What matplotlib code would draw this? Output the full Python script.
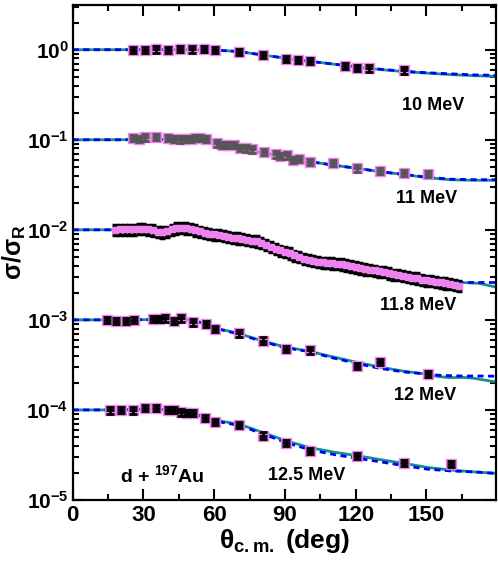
"""
    d + 197Au elastic scattering, ratio to Rutherford
"""

import numpy as np
import matplotlib.pyplot as plt

plt.rcParams['font.family'] = 'Liberation Sans'
plt.rcParams['font.weight'] = 'bold'
plt.rcParams['mathtext.fontset'] = 'custom'
plt.rcParams['mathtext.rm'] = 'Liberation Sans'
plt.rcParams['mathtext.bf'] = 'Liberation Sans:bold'
plt.rcParams['mathtext.it'] = 'Liberation Sans:italic'

# ---- data (ratio sigma/sigma_R, before the offset of each energy) ----
energies = ['10 MeV', '11 MeV', '11.8 MeV', '12 MeV', '12.5 MeV']
offsets = [1.0, 1e-1, 1e-2, 1e-3, 1e-4]

ang_10 = [25.5, 30.5, 35.5, 40.5, 45.5, 50.5, 55.5, 60.5, 70.5, 80.5,
          90.5, 95.5, 100.5, 115.5, 120.5, 125.5, 140.5]
val_10 = [1.0, 1.0, 1.01, 1.0, 1.02, 1.01, 1.03, 1.0, 0.95, 0.87,
          0.79, 0.77, 0.75, 0.66, 0.63, 0.62, 0.59]

ang_11 = [25.5, 28, 30.5, 35.5, 40.5, 43, 45.5, 47.5, 50, 52, 54, 56.5,
          61, 63.5, 65.5, 68.5, 71, 73.5, 76, 81, 86, 88, 91, 93.5, 96,
          100.5, 110.5, 120.5, 130.5, 140.5, 150.5]
val_11 = [1.04, 1.02, 1.06, 1.08, 1.04, 1.02, 1.01, 1.02, 1.02, 1.04, 1.04, 1.02,
          0.91, 0.87, 0.87, 0.87, 0.82, 0.80, 0.78, 0.74, 0.69, 0.66, 0.67, 0.60, 0.61,
          0.57, 0.55, 0.48, 0.45, 0.43, 0.415]

ang_118 = [18, 20, 22, 24, 26, 28, 30, 32, 34, 36, 38, 40, 42, 44, 46, 48, 50,
           52, 54, 56, 58, 60, 62, 64, 66, 68, 70, 72, 74, 76, 78, 80, 82, 84,
           86, 88, 90, 92, 94, 96, 98, 100, 102, 104, 106, 108, 110, 112, 114,
           116, 118, 120, 122, 124, 126, 128, 130, 132, 134, 136, 138, 140, 142,
           144, 146, 148, 150, 152, 154, 156, 158, 160, 162, 164]
val_118 = [1.00, 1.01, 1.01, 1.01, 1.01, 1.02, 1.02, 1.01, 0.99, 0.95, 0.94, 0.96,
           1.01, 1.04, 1.05, 1.04, 1.02, 0.99, 0.96, 0.93, 0.91, 0.89, 0.88, 0.86,
           0.84, 0.82, 0.81, 0.79, 0.78, 0.76, 0.75, 0.72, 0.68, 0.65, 0.62, 0.59,
           0.57, 0.55, 0.52, 0.50, 0.48, 0.465, 0.45, 0.44, 0.435, 0.43, 0.425,
           0.42, 0.415, 0.405, 0.395, 0.385, 0.375, 0.365, 0.36, 0.355, 0.345,
           0.34, 0.33, 0.32, 0.315, 0.31, 0.30, 0.295, 0.29, 0.28, 0.275, 0.27,
           0.265, 0.26, 0.255, 0.25, 0.245, 0.24]

ang_12 = [14.5, 18.5, 22.5, 26, 34, 36.5, 39, 43, 46, 51, 56.5, 60.5,
          70.5, 80.5, 90.5, 100.5, 120.5, 130.5, 150.5]
val_12 = [1.0, 0.98, 0.98, 1.0, 1.02, 1.02, 1.04, 0.98, 1.04, 0.94, 0.91, 0.79,
          0.71, 0.59, 0.48, 0.46, 0.31, 0.34, 0.25]

ang_125 = [16, 20.5, 25.5, 30.5, 35.5, 40.5, 43, 46, 48.5, 51, 56, 60.5,
           70.5, 80.5, 90.5, 100.5, 120.5, 140.5, 160.5]
val_125 = [0.99, 1.01, 0.99, 1.06, 1.06, 1.01, 1.01, 0.94, 0.93, 0.93, 0.82, 0.74,
           0.68, 0.52, 0.43, 0.35, 0.31, 0.26, 0.25]

# ---- calculations (solid = teal, dashed = blue) ----
cang_10 = [0, 20, 40, 50, 61, 71, 81, 91, 101, 111, 121, 131, 141, 150, 160, 170, 180]
solid_10 = [1.0, 1.0, 1.0, 1.0, 0.99, 0.95, 0.87, 0.80, 0.74, 0.69, 0.64, 0.60,
            0.57, 0.55, 0.53, 0.515, 0.505]
dash_10 = [1.0, 1.0, 1.0, 1.0, 0.99, 0.95, 0.87, 0.80, 0.74, 0.69, 0.645, 0.605,
           0.575, 0.555, 0.54, 0.525, 0.52]

cang_11 = [0, 20, 40, 50, 55, 61, 71, 81, 91, 101, 111, 121, 131, 141, 150, 160, 170, 180]
solid_11 = [1.0, 1.0, 1.01, 1.01, 0.99, 0.90, 0.80, 0.71, 0.64, 0.57, 0.52, 0.48,
            0.44, 0.41, 0.38, 0.36, 0.355, 0.355]
dash_11 = [1.0, 1.0, 1.01, 1.01, 0.99, 0.90, 0.80, 0.71, 0.64, 0.57, 0.52, 0.48,
           0.44, 0.41, 0.385, 0.365, 0.36, 0.36]

cang_118 = [0, 17, 25, 30, 36, 40, 45, 50, 55, 60, 70, 80, 85, 90, 95, 100, 110,
            120, 130, 140, 150, 160, 165, 172, 180]
solid_118 = [1.0, 1.0, 1.0, 1.0, 0.97, 0.97, 1.02, 1.01, 0.95, 0.90, 0.80, 0.72,
             0.64, 0.57, 0.51, 0.47, 0.43, 0.39, 0.345, 0.31, 0.28, 0.26, 0.26,
             0.255, 0.23]
dash_118 = [1.0, 1.0, 1.0, 1.0, 0.98, 0.98, 1.01, 1.0, 0.95, 0.90, 0.80, 0.71,
            0.63, 0.56, 0.50, 0.465, 0.425, 0.385, 0.345, 0.31, 0.285, 0.265,
            0.26, 0.26, 0.26]

cang_12 = [0, 20, 40, 50, 55, 60, 70, 80, 90, 100, 110, 120, 130, 140, 150, 155,
           160, 165, 170, 180]
solid_12 = [1.0, 1.0, 1.01, 1.0, 0.93, 0.82, 0.71, 0.59, 0.50, 0.45, 0.39, 0.34,
            0.30, 0.27, 0.25, 0.235, 0.228, 0.23, 0.225, 0.203]
dash_12 = [1.0, 1.0, 1.01, 1.0, 0.92, 0.81, 0.70, 0.58, 0.49, 0.445, 0.38, 0.33,
           0.29, 0.265, 0.25, 0.243, 0.24, 0.238, 0.238, 0.237]

cang_125 = [0, 20, 30, 40, 45, 50, 55.5, 60.5, 71, 80.7, 90.9, 100.8, 110.7,
            120.7, 130.6, 140.5, 150.4, 160.3, 170.2, 180]
solid_125 = [1.0, 1.0, 1.02, 1.01, 0.98, 0.92, 0.85, 0.77, 0.69, 0.56, 0.45, 0.38,
             0.34, 0.31, 0.28, 0.255, 0.23, 0.215, 0.205, 0.197]
dash_125 = [1.0, 1.0, 1.02, 1.01, 0.98, 0.91, 0.84, 0.75, 0.67, 0.54, 0.43, 0.36,
            0.32, 0.29, 0.265, 0.24, 0.22, 0.21, 0.205, 0.197]

# label positions (deg, y) for the energies
label_x = [152.7, 150, 146.5, 149.3, 99.4]
label_y = [0.243, 0.0225, 1.456e-3, 1.456e-4, 1.88e-5]

ytick_vals = [1e0, 1e-1, 1e-2, 1e-3, 1e-4, 1e-5]
ytick_labels = ['10$^{\\mathbf{0}}$', '10$^{\\mathbf{-1}}$', '10$^{\\mathbf{-2}}$',
                '10$^{\\mathbf{-3}}$', '10$^{\\mathbf{-4}}$', '10$^{\\mathbf{-5}}$']

PINK = '#ee82ee'
TEAL = '#138f8f'
BLUE = '#0000ff'

data_sets = [(ang_10, val_10), (ang_11, val_11), (ang_118, val_118),
             (ang_12, val_12), (ang_125, val_125)]
curve_sets = [(cang_10, solid_10, dash_10), (cang_11, solid_11, dash_11),
              (cang_118, solid_118, dash_118), (cang_12, solid_12, dash_12),
              (cang_125, solid_125, dash_125)]
bar_colors = ['black', '#555555', 'black', 'black', 'black']

fig = plt.figure(figsize=(4.98, 5.69), dpi=100)
ax = fig.add_axes([0.146, 0.1213, 0.85, 0.870])
ax.set_yscale('log')

for i in range(5):
    off = offsets[i]
    ca, cs, cd = curve_sets[i]
    ax.plot(ca, np.array(cs) * off, '-', color=TEAL, lw=2.0, zorder=2)
    ax.plot(ca, np.array(cd) * off, '--', color=BLUE, lw=2.0,
            dashes=(2.2, 1.6), zorder=2.5)

    a, v = data_sets[i]
    y = np.array(v) * off
    if i == 2:
        # dense data: thick band of bars behind the squares
        ax.errorbar(a, y, yerr=0.13 * y, fmt='none', ecolor='black',
                    elinewidth=2.5, capsize=2.5, capthick=2.5, zorder=3)
        ax.plot(a, y, 's', ms=5, mfc=PINK, mec=PINK, zorder=3.5)
    else:
        ax.plot(a, y, 's', ms=7, mfc=PINK, mec=PINK, zorder=3)
        ax.errorbar(a, y, yerr=0.08 * y, fmt='none', ecolor=bar_colors[i],
                    elinewidth=2, capsize=3, capthick=2, zorder=4)
        ax.errorbar(a, y, xerr=1.7, fmt='none', ecolor=bar_colors[i],
                    elinewidth=2, capsize=0, zorder=4)

    ax.text(label_x[i], label_y[i], energies[i], fontsize=13,
            fontweight='bold', ha='center', va='center')

ax.text(20.1, 1.9e-5, 'd + $^{\\mathbf{197}}$Au', fontsize=14,
        fontweight='bold', ha='left', va='center')

ax.set_xlim(0, 179.5)
ax.set_ylim(1e-5, 3.14)
ax.set_xticks([0, 30, 60, 90, 120, 150])
ax.set_xticks([15, 45, 75, 105, 135, 165], minor=True)
ax.set_yticks(ytick_vals, ytick_labels)
ax.tick_params(which='both', direction='in', top=True, right=True,
               labelsize=16, width=1.5)
ax.tick_params(axis='y', labelsize=15, pad=3)
ax.tick_params(which='major', length=8)
ax.tick_params(which='minor', length=4)
for lbl in ax.get_xticklabels() + ax.get_yticklabels():
    lbl.set_fontweight('bold')
for sp in ax.spines.values():
    sp.set_linewidth(1.6)

ax.set_xlabel('θ$_{\\mathbf{c{.}m{.}}}$ (deg)', fontsize=19, fontweight='bold')
ax.set_ylabel('σ/σ$_{\\mathbf{R}}$', fontsize=18, fontweight='bold')
ax.yaxis.set_label_coords(-0.106, 0.5)
ax.xaxis.set_label_coords(0.5, -0.055)

fig.savefig('out.png', dpi=100)
